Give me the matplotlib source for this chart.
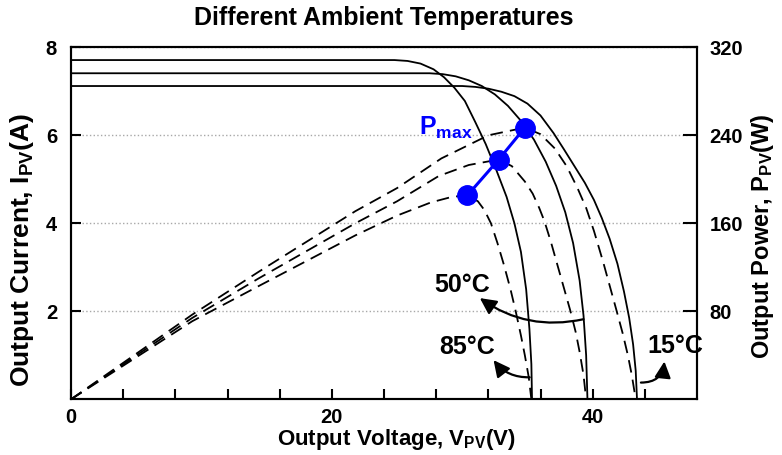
import matplotlib
matplotlib.use("Agg")
import matplotlib.pyplot as plt

plt.rcParams["font.family"] = ["Liberation Sans", "DejaVu Sans"]
plt.rcParams["font.weight"] = "bold"
plt.rcParams["mathtext.fontset"] = "custom"
plt.rcParams["mathtext.rm"] = "Liberation Sans:bold"
plt.rcParams["mathtext.bf"] = "Liberation Sans:bold"
plt.rcParams["mathtext.it"] = "Liberation Sans:bold"

# I-V curves (current in A)
v_iv_85 = [0, 24.8, 25.8, 26.8, 27.8, 28.6, 29.4, 30.2, 31.0, 31.8, 32.6, 33.4, 34.0, 34.5, 34.9, 35.15, 35.3, 35.35]
i_iv_85 = [7.71, 7.71, 7.69, 7.63, 7.50, 7.32, 7.08, 6.78, 6.30, 5.80, 5.22, 4.60, 4.0, 3.35, 2.5, 1.6, 0.8, 0]
v_iv_50 = [0, 27.5, 28.5, 29.5, 30.5, 31.5, 32.5, 33.5, 34.5, 35.5, 36.4, 37.2, 37.9, 38.5, 39.0, 39.3, 39.5, 39.6]
i_iv_50 = [7.41, 7.41, 7.39, 7.34, 7.25, 7.12, 6.93, 6.67, 6.33, 5.90, 5.40, 4.85, 4.25, 3.55, 2.7, 1.9, 1.0, 0]
v_iv_15 = [0, 30.0, 31.0, 32.0, 33.0, 34.0, 35.0, 36.0, 37.0, 37.8, 38.6, 39.4, 40.1, 40.7, 41.3, 41.9,
           42.4, 42.8, 43.1, 43.3, 43.4]
i_iv_15 = [7.12, 7.12, 7.10, 7.06, 6.99, 6.89, 6.72, 6.45, 6.05, 5.68, 5.30, 4.92, 4.53, 4.12, 3.65, 3.08,
           2.45, 1.85, 1.25, 0.65, 0]

# P-V curves (power in W)
v_pv_85 = [0, 9.3, 14.4, 21.8, 25.0, 27.6, 29.2, 30.4, 31.2, 31.7, 32.2, 32.7, 33.2, 33.7, 34.1, 34.5, 34.8, 35.1, 35.3]
p_pv_85 = [0, 71, 103, 149, 167, 179, 184, 185.5, 180, 172, 160, 142, 122, 100, 80, 58, 40, 20, 0]
v_pv_50 = [0, 9.3, 14.4, 21.8, 25.0, 28.2, 30.5, 32.8, 33.8, 34.8, 35.4, 35.9, 36.3, 36.8, 37.3, 37.8, 38.3,
           38.7, 39.0, 39.3, 39.5]
p_pv_50 = [0, 74, 110, 160, 180, 203, 213, 218, 212, 198, 187, 174, 162, 143, 122, 101, 80, 61, 43, 22, 0]
v_pv_15 = [0, 9.3, 14.4, 21.8, 25.0, 28.4, 32.0, 34.8, 36.0, 37.1, 38.0, 38.8, 39.5, 40.1, 40.8, 41.8, 42.3,
           42.7, 43.0, 43.3]
p_pv_15 = [0, 77, 116, 171, 192, 219, 240, 247, 241, 228, 212, 193, 174, 153, 125, 82, 60, 40, 22, 0]

# maximum power points
v_mpp = [30.4, 32.8, 34.8]
p_mpp = [185.5, 218, 247]

x_ticks = list(range(0, 48, 4))
x_labels = [str(t) if t in (0, 20, 40) else "" for t in x_ticks]
i_ticks = [2, 4, 6, 8]
p_ticks = [80, 160, 240, 320]

fig = plt.figure(figsize=(7.82, 4.55), dpi=100)
ax1 = fig.add_axes([71 / 782, 1 - 399.3 / 455, 626 / 782, 352 / 455])
ax2 = ax1.twinx()

for v, i in [(v_iv_85, i_iv_85), (v_iv_50, i_iv_50), (v_iv_15, i_iv_15)]:
    ax1.plot(v, i, color="black", lw=1.3, solid_joinstyle="round")

for v, p in [(v_pv_85, p_pv_85), (v_pv_50, p_pv_50), (v_pv_15, p_pv_15)]:
    ax2.plot(v, p, color="black", lw=1.3, dashes=(7, 4))

ax2.plot(v_mpp, p_mpp, color="#0000FF", lw=2.2, marker="o", markersize=14, zorder=5)

ax1.set_xlim(0, 48)
ax1.set_ylim(0, 8)
ax2.set_ylim(0, 320)

ax1.set_xticks(x_ticks)
ax1.set_xticklabels(x_labels)
ax1.set_yticks(i_ticks)
ax2.set_yticks(p_ticks)
ax1.yaxis.grid(True, color="#a8a8a8", linestyle=":", lw=1.0)

ax1.tick_params(axis="both", direction="in", length=7, width=1.5, labelsize=14.5)
ax1.tick_params(axis="x", pad=6)
ax1.tick_params(axis="y", pad=10)
ax2.tick_params(axis="y", direction="in", length=10, width=1.5, labelsize=14.5, pad=9)
for ax in (ax1, ax2):
    for s in ax.spines.values():
        s.set_linewidth(1.5)

# Pmax label
ax1.text(26.7, 6.02, r"$\mathrm{P_{max}}$", color="#0000FF", fontsize=18, va="baseline", ha="left")

# temperature labels with arrows
arrow_kw = dict(arrowstyle="-|>,head_length=0.7,head_width=0.35", color="black", lw=1.6,
                mutation_scale=14, shrinkA=0, shrinkB=0)
ax2.annotate("", xy=(31.35, 92), xytext=(39.3, 72.8),
             arrowprops=dict(connectionstyle="arc3,rad=-0.22", **arrow_kw), annotation_clip=False)
ax2.annotate("", xy=(32.4, 35.6), xytext=(35.17, 20),
             arrowprops=dict(connectionstyle="arc3,rad=-0.25", **arrow_kw), annotation_clip=False)
ax2.annotate("", xy=(45.5, 34.4), xytext=(43.7, 15.2),
             arrowprops=dict(connectionstyle="arc3,rad=0.45", **arrow_kw), annotation_clip=False)
ax2.text(30.0, 104, "50°C", fontsize=18, ha="center", va="center", zorder=10, clip_on=False)
ax2.text(30.4, 47.6, "85°C", fontsize=18, ha="center", va="center", zorder=10, clip_on=False)
ax2.text(46.3, 48.4, "15°C", fontsize=18, ha="center", va="center", zorder=10, clip_on=False)

fig.text(384 / 782, 1 - 18 / 455, "Different Ambient Temperatures", fontsize=18, ha="center", va="center")
fig.text(396 / 782, 1 - 440 / 455, r"Output Voltage, V$_{\mathrm{PV}}$(V)", fontsize=16, ha="center", va="center")
fig.text(22 / 782, 1 - 250 / 455, r"Output Current, I$_{\mathrm{PV}}$(A)", fontsize=19, ha="center", va="center", rotation=90)
fig.text(763 / 782, 1 - 236 / 455, r"Output Power, P$_{\mathrm{PV}}$(W)", fontsize=17, ha="center", va="center", rotation=90)

fig.savefig("out.png", dpi=100)
